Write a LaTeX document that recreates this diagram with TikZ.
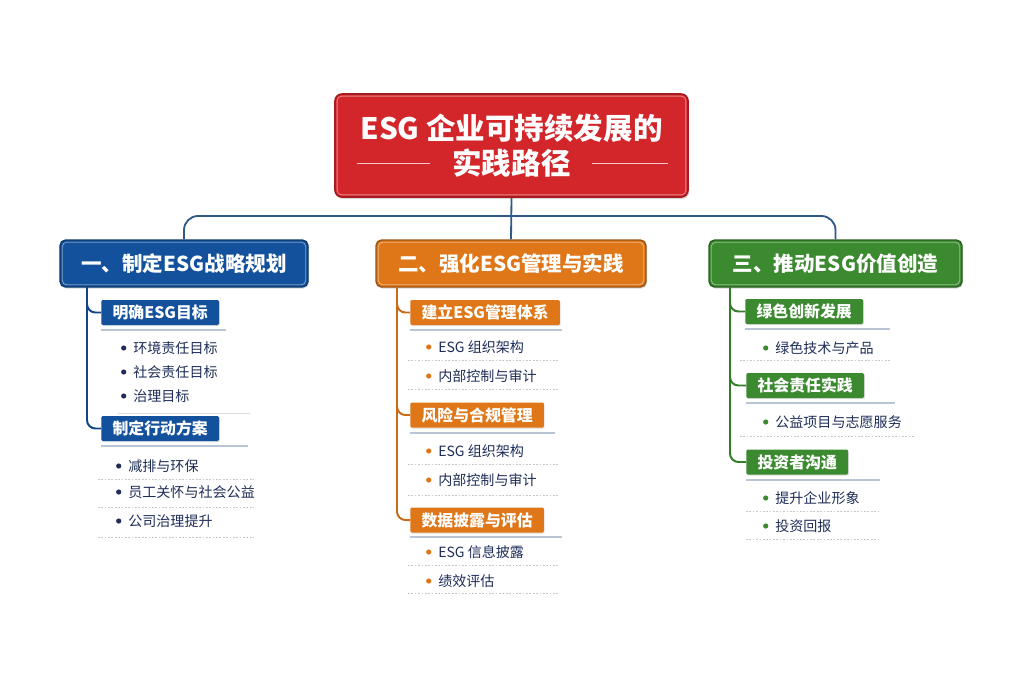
\documentclass[tikz,border=0pt]{standalone}
\usepackage{fontspec}
\setmainfont{Noto Sans CJK SC}
\usetikzlibrary{positioning,shadows}

\definecolor{redm}{HTML}{D2262B}
\definecolor{redd}{HTML}{A51B1F}
\definecolor{bluem}{HTML}{14519C}
\definecolor{orangem}{HTML}{DF7618}
\definecolor{greenm}{HTML}{3B8A2F}
\definecolor{trunkc}{HTML}{2F5A88}
\definecolor{ink}{HTML}{1E2D58}
\definecolor{ulc}{HTML}{B9C4D4}
\definecolor{sepc}{HTML}{C4C8CE}

\begin{document}
\begin{tikzpicture}[x=0.25mm, y=-0.25mm,
  titlebox/.style={draw=redd, line width=1.2pt, fill=redm, rounded corners=5pt,
    text=white, align=center, font=\bfseries\fontsize{21}{25}\selectfont,
    minimum width=88.25mm, minimum height=25.75mm,
    drop shadow={shadow xshift=0.8pt, shadow yshift=-1.5pt, opacity=0.3}},
  mainbox/.style={draw=#1!70!black, line width=1pt, fill=#1, rounded corners=4pt,
    text=white, font=\bfseries\fontsize{14.6}{17}\selectfont,
    minimum height=11.75mm,
    drop shadow={shadow xshift=0.6pt, shadow yshift=-1.2pt, opacity=0.3}},
  subbox/.style={fill=#1, rounded corners=1pt, anchor=west, text=white,
    font=\bfseries\fontsize{11.3}{13}\selectfont, inner xsep=8pt, inner ysep=0pt,
    minimum height=6.25mm,
    drop shadow={shadow xshift=0.5pt, shadow yshift=-0.8pt, opacity=0.25}},
  item/.style={anchor=west, inner sep=0pt, text=ink,
    font=\fontsize{10}{12}\selectfont,
    label={[circle, fill=#1, inner sep=0pt, minimum size=1.3mm, label distance=1.6mm]left:{}}},
  inner/.style={draw=white, opacity=0.45, line width=0.6pt, rounded corners=3pt},
  trunk/.style={draw=trunkc, line width=1.3pt, rounded corners=10pt},
  branch/.style={draw=#1, line width=1.4pt, rounded corners=6pt},
  uline/.style={draw=ulc, line width=1.2pt},
  sep/.style={draw=sepc, line width=0.5pt, dash pattern=on 1.2pt off 1.2pt}]
\useasboundingbox (0,0) rectangle (1024,683);

% title and the three pillars
\node[titlebox] (title) at (511.5,145.5) {ESG 企业可持续发展的\\实践路径};
\draw[white!75!redm, line width=0.7pt] (357,163) -- (430,163);
\draw[white!75!redm, line width=0.7pt] (592,163) -- (668,163);
\node[mainbox=bluem, minimum width=62mm] (b1) at (184,263.5) {一、制定ESG战略规划};
\node[mainbox=orangem, minimum width=67.5mm] (b2) at (511,263.5) {二、强化ESG管理与实践};
\node[mainbox=greenm, minimum width=63.25mm] (b3) at (835.5,263.5) {三、推动ESG价值创造};
\foreach \n in {title,b1,b2,b3}
  \draw[inner] ([shift={(3,3)}]\n.north west) rectangle ([shift={(-3,-3)}]\n.south east);

\coordinate (hub) at (511,216);
\draw[trunk] (b1.north) |- (hub) -| (b3.north);
\draw[trunk] (title.south) -- (b2.north);

% column 1
\node[subbox=bluem] (s11) at (101,312.5) {明确ESG目标};
\node[subbox=bluem] (s12) at (101,428.5) {制定行动方案};
\coordinate (t1) at (87,287);
\draw[branch=bluem!85!black] (t1) |- (s11.west);
\draw[branch=bluem!85!black] (t1) |- (s12.west);
\node[item=ink] (i11) at (133,348) {环境责任目标};
\node[item=ink] (i12) at (133,372) {社会责任目标};
\node[item=ink] (i13) at (133,396) {治理目标};
\node[item=ink] (i14) at (128,466) {减排与环保};
\node[item=ink] (i15) at (128,492) {员工关怀与社会公益};
\node[item=ink] (i16) at (128,521) {公司治理提升};
\draw[uline] (101,330) -- (226,330);
\draw[sepc!60, line width=0.5pt] (118,413) -- (250,413);
\draw[uline] (101,446) -- (248,446);
\foreach \y in {479,507,537} \draw[sep] (98,\y) -- (254,\y);

% column 2
\node[subbox=orangem] (s21) at (410,312.5) {建立ESG管理体系};
\node[subbox=orangem] (s22) at (410,415) {风险与合规管理};
\node[subbox=orangem] (s23) at (410,520) {数据披露与评估};
\coordinate (t2) at (397,287);
\draw[branch=orangem!90!black] (t2) |- (s21.west);
\draw[branch=orangem!90!black] (t2) |- (s22.west);
\draw[branch=orangem!90!black] (t2) |- (s23.west);
\node[item=orangem] (i21) at (438,347) {ESG 组织架构};
\node[item=orangem] (i22) at (438,376) {内部控制与审计};
\node[item=orangem] (i23) at (438,451) {ESG 组织架构};
\node[item=orangem] (i24) at (438,480) {内部控制与审计};
\node[item=orangem] (i25) at (438,552) {ESG 信息披露};
\node[item=orangem] (i26) at (438,581) {绩效评估};
\draw[uline] (410,330) -- (562,330);
\draw[uline] (410,433) -- (555,433);
\draw[uline] (410,537) -- (562,537);
\foreach \y in {360,389,464,495,565,593} \draw[sep] (408,\y) -- (558,\y);

% column 3
\node[subbox=greenm] (s31) at (745,311.5) {绿色创新发展};
\node[subbox=greenm] (s32) at (746,385.5) {社会责任实践};
\node[subbox=greenm] (s33) at (746,462) {投资者沟通};
\coordinate (t3) at (730,287);
\draw[branch=greenm!90!black] (t3) |- (s31.west);
\draw[branch=greenm!90!black] (t3) |- (s32.west);
\draw[branch=greenm!90!black] (t3) |- (s33.west);
\node[item=greenm] (i31) at (775,348) {绿色技术与产品};
\node[item=greenm] (i32) at (775,422) {公益项目与志愿服务};
\node[item=greenm] (i33) at (775,498) {提升企业形象};
\node[item=greenm] (i34) at (775,526) {投资回报};
\draw[uline] (745,329) -- (890,329);
\draw[uline] (746,403) -- (895,403);
\draw[uline] (746,480) -- (880,480);
\draw[sep] (740,360) -- (890,360);
\draw[sep] (740,436) -- (915,436);
\foreach \y in {511,539} \draw[sep] (746,\y) -- (880,\y);
\end{tikzpicture}
\end{document}
